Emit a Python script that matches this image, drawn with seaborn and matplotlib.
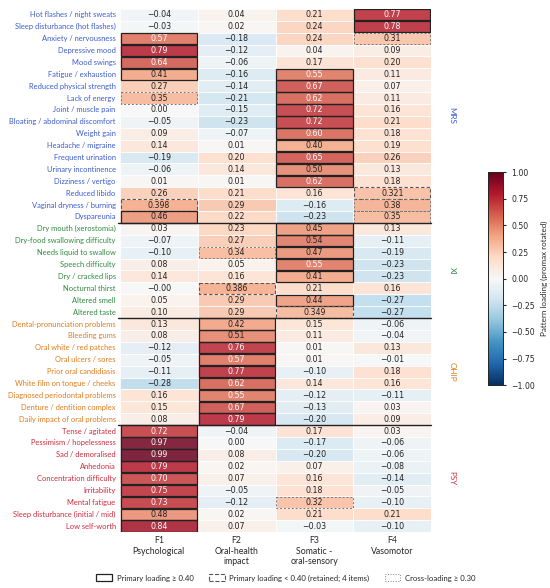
import numpy as np
import pandas as pd
import matplotlib.pyplot as plt
import seaborn as sns
from matplotlib.patches import Rectangle, Patch

# items per scale
mrs_items = ["Hot flashes / night sweats", "Sleep disturbance (hot flashes)", "Anxiety / nervousness",
             "Depressive mood", "Mood swings", "Fatigue / exhaustion", "Reduced physical strength",
             "Lack of energy", "Joint / muscle pain", "Bloating / abdominal discomfort", "Weight gain",
             "Headache / migraine", "Frequent urination", "Urinary incontinence", "Dizziness / vertigo",
             "Reduced libido", "Vaginal dryness / burning", "Dyspareunia"]
xi_items = ["Dry mouth (xerostomia)", "Dry-food swallowing difficulty", "Needs liquid to swallow",
            "Speech difficulty", "Dry / cracked lips", "Nocturnal thirst", "Altered smell", "Altered taste"]
ohip_items = ["Dental-pronunciation problems", "Bleeding gums", "Oral white / red patches",
              "Oral ulcers / sores", "Prior oral candidiasis", "White film on tongue / cheeks",
              "Diagnosed periodontal problems", "Denture / dentition complex", "Daily impact of oral problems"]
psy_items = ["Tense / agitated", "Pessimism / hopelessness", "Sad / demoralised", "Anhedonia",
             "Concentration difficulty", "Irritability", "Mental fatigue",
             "Sleep disturbance (initial / mid)", "Low self-worth"]

factors = ["F1\nPsychological", "F2\nOral-health\nimpact", "F3\nSomatic -\noral-sensory", "F4\nVasomotor"]

# pattern loadings F1..F4
mrs_load = [[-0.04, 0.04, 0.21, 0.77], [-0.03, 0.02, 0.24, 0.78], [0.57, -0.18, 0.24, 0.31],
            [0.79, -0.12, 0.04, 0.09], [0.64, -0.06, 0.17, 0.20], [0.41, -0.16, 0.55, 0.11],
            [0.27, -0.14, 0.67, 0.07], [0.35, -0.21, 0.62, 0.11], [0.00, -0.15, 0.72, 0.16],
            [-0.05, -0.23, 0.72, 0.21], [0.09, -0.07, 0.60, 0.18], [0.14, 0.01, 0.40, 0.19],
            [-0.19, 0.20, 0.65, 0.26], [-0.06, 0.14, 0.50, 0.13], [0.01, 0.01, 0.62, 0.18],
            [0.26, 0.21, 0.16, 0.321], [0.398, 0.29, -0.16, 0.38], [0.46, 0.22, -0.23, 0.35]]
xi_load = [[0.03, 0.23, 0.45, 0.13], [-0.07, 0.27, 0.54, -0.11], [-0.10, 0.34, 0.47, -0.19],
           [0.08, 0.05, 0.55, -0.23], [0.14, 0.16, 0.41, -0.23], [-0.0, 0.386, 0.21, 0.16],
           [0.05, 0.29, 0.44, -0.27], [0.10, 0.29, 0.349, -0.27]]
ohip_load = [[0.13, 0.42, 0.15, -0.06], [0.08, 0.51, 0.11, -0.04], [-0.12, 0.76, 0.01, 0.13],
             [-0.05, 0.57, 0.01, -0.01], [-0.11, 0.77, -0.10, 0.18], [-0.28, 0.62, 0.14, 0.16],
             [0.16, 0.55, -0.12, -0.11], [0.15, 0.67, -0.13, 0.03], [0.08, 0.79, -0.20, 0.09]]
psy_load = [[0.72, -0.04, 0.17, 0.03], [0.97, 0.00, -0.17, -0.06], [0.99, 0.08, -0.20, -0.06],
            [0.79, 0.02, 0.07, -0.08], [0.70, 0.07, 0.16, -0.14], [0.75, -0.05, 0.18, -0.05],
            [0.73, -0.12, 0.32, -0.10], [0.48, 0.02, 0.21, 0.21], [0.84, 0.07, -0.03, -0.10]]

groups = ["MRS", "XI", "OHIP", "PSY"]
group_colors = {"MRS": "#3c5ccf", "XI": "#2e8b3e", "OHIP": "#e07b1a", "PSY": "#d02a3c"}

items = mrs_items + xi_items + ohip_items + psy_items
loads = np.array(mrs_load + xi_load + ohip_load + psy_load)
sizes = [len(mrs_items), len(xi_items), len(ohip_items), len(psy_items)]
item_group = sum([[g] * n for g, n in zip(groups, sizes)], [])

df = pd.DataFrame(loads, index=items, columns=factors)

# border categories
nrow, ncol = loads.shape
retained = np.zeros_like(loads, dtype=bool)
for i in range(nrow):
    j = np.argmax(loads[i])
    if loads[i, j] < 0.40:
        retained[i, j] = True
solid = loads >= 0.40
cross = (loads >= 0.30) & (loads < 0.40) & ~retained

annot = np.empty(loads.shape, dtype=object)
for i in range(nrow):
    for j in range(ncol):
        s = f"{loads[i, j]:.3f}" if retained[i, j] else f"{loads[i, j]:.2f}"
        annot[i, j] = s.replace("-", "\u2212")

sns.set_style("white")
plt.rcParams['font.family'] = ['Lato', 'DejaVu Sans']

fig = plt.figure(figsize=(5.5, 5.88), dpi=100)
ax = fig.add_axes([0.218, 0.095, 0.566, 0.89])
cax = fig.add_axes([0.887, 0.345, 0.027, 0.362])

sns.heatmap(df, ax=ax, cbar_ax=cax, cmap="RdBu_r", vmin=-1, vmax=1, center=0,
            annot=annot, fmt="", linewidths=0.5, linecolor="white",
            annot_kws={"fontsize": 5.7, "family": "DejaVu Sans"},
            cbar_kws={"label": "Pattern loading (promax rotated)"})
ax.collections[0].set_alpha(0.86)

for t, v in zip(ax.texts, loads.flatten()):
    t.set_color("white" if v >= 0.55 else "#222222")

# cell borders
for i in range(nrow):
    for j in range(ncol):
        if solid[i, j]:
            ax.add_patch(Rectangle((j + 0.01, i + 0.02), 0.98, 0.96, fill=False,
                                   edgecolor="#222222", lw=0.9, zorder=5))
        elif retained[i, j]:
            ax.add_patch(Rectangle((j + 0.01, i + 0.02), 0.98, 0.96, fill=False,
                                   edgecolor="#555555", lw=0.8, ls=(0, (3, 2)), zorder=5))
        elif cross[i, j]:
            ax.add_patch(Rectangle((j + 0.01, i + 0.02), 0.98, 0.96, fill=False,
                                   edgecolor="#777777", lw=0.7, ls=(0, (2, 2)), zorder=5))

# group separators and labels
start = 0
for g, n in zip(groups, sizes):
    if start > 0:
        ax.plot([-0.03, ncol], [start, start], color="#222222", lw=1.0, zorder=6, clip_on=False)
    ax.text(ncol + 0.27, start + n / 2, g, rotation=270, ha="center", va="center",
            fontsize=5.8, color=group_colors[g], clip_on=False)
    start += n

ax.set_yticks(np.arange(nrow) + 0.5)
ax.set_yticklabels(items, fontsize=5.4)
for lbl, g in zip(ax.get_yticklabels(), item_group):
    lbl.set_color(group_colors[g])
ax.set_xticklabels(factors, fontsize=6.3, rotation=0)
ax.tick_params(axis="both", length=0, pad=3)
ax.set_xlabel("")
ax.set_ylabel("")

cax.tick_params(labelsize=5.6, length=2.5)
cax.set_yticks([-1, -0.75, -0.5, -0.25, 0, 0.25, 0.5, 0.75, 1])
cax.set_yticklabels([f"{v:.2f}".replace("-", "\u2212") for v in [-1, -0.75, -0.5, -0.25, 0, 0.25, 0.5, 0.75, 1]],
                    family="DejaVu Sans")
cax.yaxis.label.set_size(5.8)
for s in cax.spines.values():
    s.set_visible(True)
    s.set_linewidth(0.6)

handles = [Patch(facecolor="white", edgecolor="#222222", lw=0.9),
           Patch(facecolor="white", edgecolor="#555555", lw=0.8, ls="--"),
           Patch(facecolor="white", edgecolor="#888888", lw=0.7, ls=":")]
labels = ["Primary loading \u2265 0.40", "Primary loading < 0.40 (retained; 4 items)", "Cross-loading \u2265 0.30"]
fig.legend(handles, labels, loc="center", bbox_to_anchor=(0.52, 0.017), ncol=3, frameon=False,
           fontsize=5.6, handlelength=2.0, handleheight=1.0, columnspacing=2.0, handletextpad=0.6)

fig.savefig("out.png", dpi=100)
